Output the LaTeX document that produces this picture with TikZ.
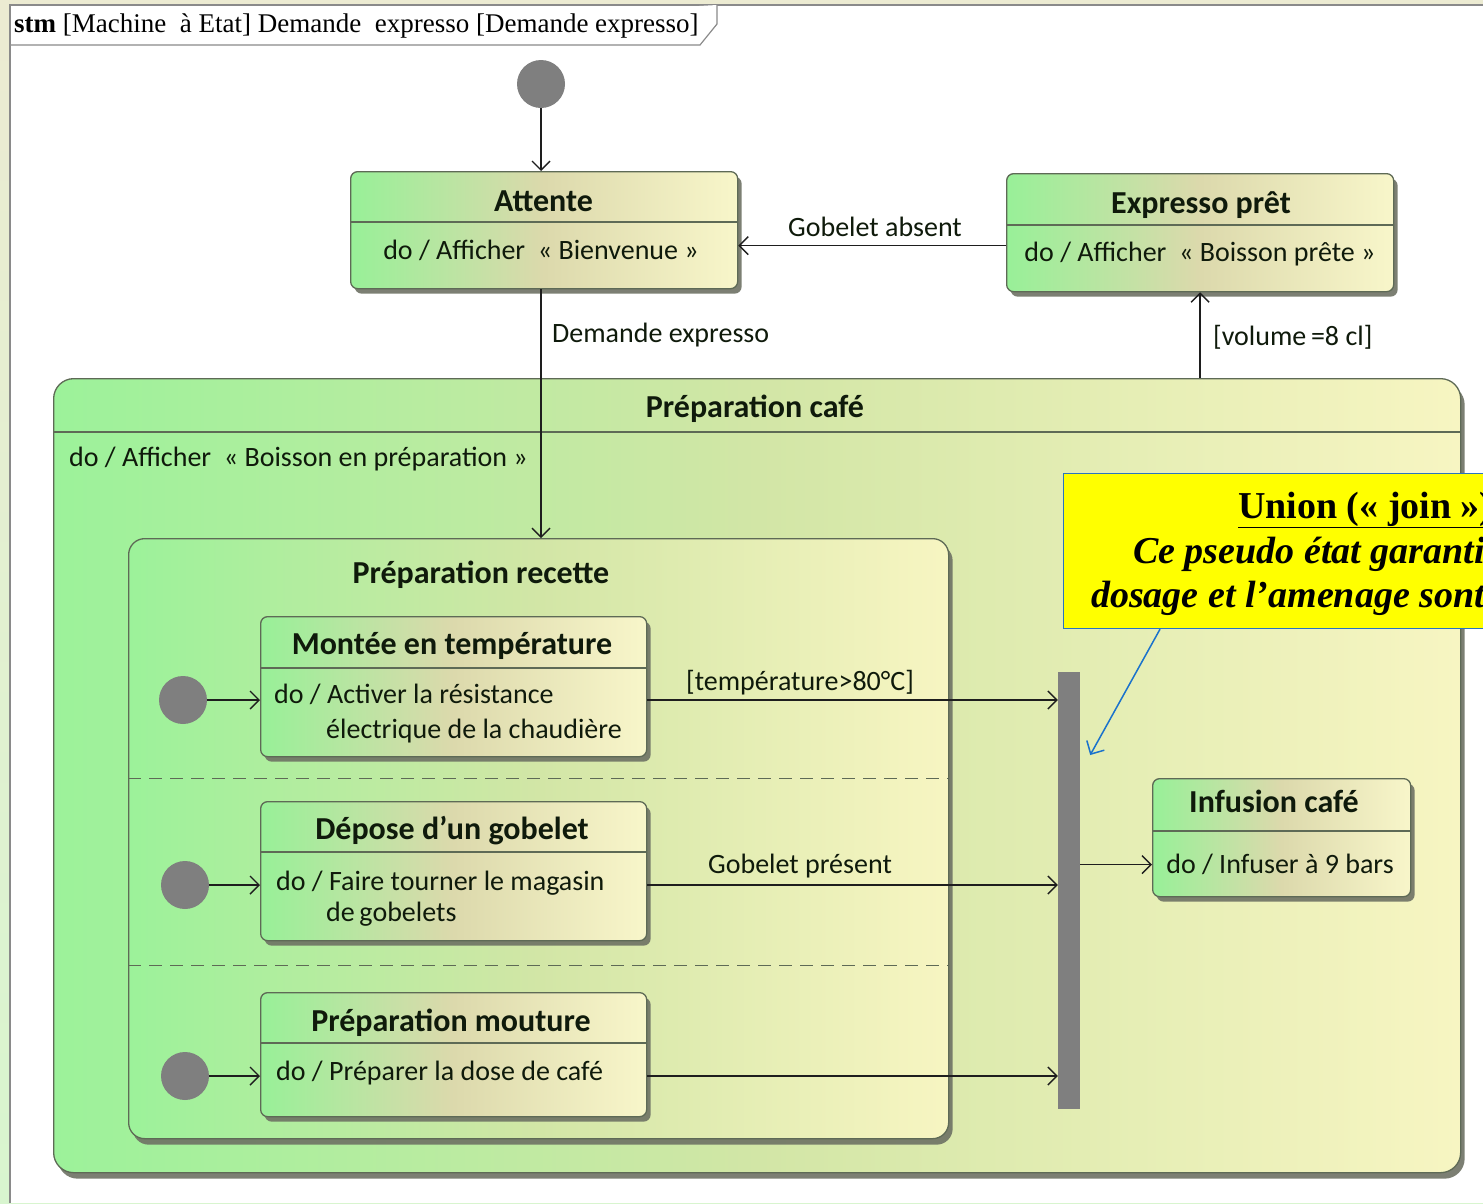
\documentclass[tikz,border=0pt]{standalone}
\usepackage{fontspec}
\setmainfont{Carlito}
\newfontfamily\timesf{Liberation Serif}
\usetikzlibrary{arrows.meta,shadows,calc}

\definecolor{gL}{HTML}{98F098}
\definecolor{gM}{HTML}{DCD9AC}
\definecolor{gR}{HTML}{F8F6CA}
\definecolor{cL}{HTML}{9CF29A}
\definecolor{cM}{HTML}{D2E6A6}
\definecolor{cR}{HTML}{F7F5C2}
\definecolor{edgec}{HTML}{5E6A56}
\definecolor{shd}{HTML}{6E7264}
\definecolor{txtc}{HTML}{0F1A0B}
\definecolor{linec}{HTML}{1E1E1E}
\definecolor{initc}{HTML}{7F7F7F}
\definecolor{framec}{HTML}{8A8A8A}
\definecolor{bgTop}{HTML}{ECEBD2}
\definecolor{bgBot}{HTML}{D8F5CF}
\definecolor{noteb}{HTML}{2A74C0}
\definecolor{notearr}{HTML}{1A72CC}
\definecolor{notey}{HTML}{FFFF00}

\tikzset{
  statebox/.style={draw=edgec, line width=1.3pt, rounded corners=7pt,
    left color=gL, right color=gR, middle color=gM, inner sep=0pt, anchor=north west,
    drop shadow={shadow xshift=4pt, shadow yshift=-5pt, fill=shd, opacity=0.9}},
  regionbox/.style={draw=edgec, line width=1.3pt, rounded corners=20pt,
    left color=cL, right color=cR, middle color=cM, inner sep=0pt, anchor=north west,
    drop shadow={shadow xshift=4pt, shadow yshift=-6pt, fill=shd, opacity=0.9}},
  ttl/.style={text=txtc, font=\bfseries\fontsize{32}{32}\selectfont, inner sep=0pt, anchor=base},
  act/.style={text=txtc, font=\fontsize{28}{34}\selectfont, inner sep=0pt},
  divline/.style={draw=edgec, line width=1.2pt},
  trans/.style={draw=linec, line width=1.4pt,
    -{Straight Barb[length=9pt,width=18pt,line width=1.4pt]}},
  initst/.style={circle, fill=initc, minimum size=48pt, inner sep=0pt},
  joinbar/.style={fill=initc, minimum width=22pt, minimum height=437pt, inner sep=0pt},
  dashsep/.style={draw=edgec, line width=1.2pt, dash pattern=on 13pt off 8pt},
  notebox/.style={draw=noteb, line width=1.2pt, fill=notey, inner sep=0pt, anchor=north west},
  notetxt/.style={text=black, font=\timesf\bfseries\fontsize{38}{45}\selectfont, inner sep=0pt, anchor=base west},
  noteit/.style={notetxt, font=\timesf\bfseries\itshape\fontsize{38}{45}\selectfont},
  notearrow/.style={draw=notearr, line width=1.5pt,
    -{Straight Barb[length=10pt,width=20pt,line width=1.5pt]}},
}

\begin{document}
\begin{tikzpicture}[x=1pt,y=-1pt]
\useasboundingbox (0,0) rectangle (1483,1203);
\clip (0,0) rectangle (1483,1203);

% window background and diagram frame
\fill[top color=bgTop, bottom color=bgBot] (0,0) rectangle (1483,1203);
\fill[white] (10,5) rectangle (1483,1203);
\draw[framec, line width=1.5pt] (10,1203) -- (10,5) -- (1483,5);

% header tab
\draw[framec, line width=1.2pt, fill=white] (10,45) -- (700,45) -- (717,24) -- (717,5);
\node[anchor=base west, inner sep=0pt, text=black, font=\timesf\fontsize{27}{27}\selectfont] (hdr) at (14,32)
  {\textbf{stm} [Machine~ à Etat] Demande~ expresso [Demande expresso]};

% top-level initial state
\node[initst] (i0) at (541,84) {};

% Attente
\node[statebox, minimum width=387pt, minimum height=117pt] (att) at (350,171) {};
\draw[divline] ([yshift=-51pt]att.north west) -- ([yshift=-51pt]att.north east);
\node[ttl] (attT) at (543.5,211) {Attente};
\node[act, anchor=base] (attD) at (541,259) {do / Afficher~~«~Bienvenue~»};

% Expresso pret
\node[statebox, minimum width=387pt, minimum height=118pt] (exp) at (1006,173) {};
\draw[divline] ([yshift=-52pt]exp.north west) -- ([yshift=-52pt]exp.north east);
\node[ttl] (expT) at (1201,213) {Expresso prêt};
\node[act, anchor=base] (expD) at (1200,261) {do / Afficher~~«~Boisson prête~»};

% Preparation cafe (composite state)
\node[regionbox, minimum width=1407pt, minimum height=794pt] (caf) at (53,378) {};
\draw[divline] ([yshift=-54pt]caf.north west) -- ([yshift=-54pt]caf.north east);
\node[ttl] (cafT) at (755,417) {Préparation café};
\node[act, anchor=base west] (cafD) at (69,466) {do / Afficher~~«~Boisson en préparation~»};

% Preparation recette (orthogonal regions)
\node[regionbox, rounded corners=16pt, minimum width=820pt, minimum height=600pt] (rec) at (128,538) {};
\node[ttl] (recT) at (481,583) {Préparation recette};
\draw[dashsep] ([yshift=60pt]rec.west) -- ([yshift=60pt]rec.east);
\draw[dashsep] ([yshift=-127pt]rec.west) -- ([yshift=-127pt]rec.east);

% Montee en temperature
\node[statebox, minimum width=386pt, minimum height=140pt] (mon) at (260,616) {};
\draw[divline] ([yshift=-52pt]mon.north west) -- ([yshift=-52pt]mon.north east);
\node[ttl] (monT) at (452,654) {Montée en température};
\node[act, anchor=base west] (monD1) at (274,703) {do / Activer la résistance};
\node[act, anchor=base west] (monD2) at (326,738) {électrique de la chaudière};

% Depose d'un gobelet
\node[statebox, minimum width=386pt, minimum height=139pt] (dep) at (260,801) {};
\draw[divline] ([yshift=-51pt]dep.north west) -- ([yshift=-51pt]dep.north east);
\node[ttl] (depT) at (452,839) {Dépose d’un gobelet};
\node[act, anchor=base west] (depD1) at (276,890) {do / Faire tourner le magasin};
\node[act, anchor=base west] (depD2) at (326,921) {de\,gobelets};

% Preparation mouture
\node[statebox, minimum width=386pt, minimum height=124pt] (mou) at (260,992) {};
\draw[divline] ([yshift=-51pt]mou.north west) -- ([yshift=-51pt]mou.north east);
\node[ttl] (mouT) at (451,1031) {Préparation mouture};
\node[act, anchor=base west] (mouD) at (276,1080) {do / Préparer la dose de café};

% region initial states
\node[initst] (s1) at (183,700) {};
\node[initst] (s2) at (185,885) {};
\node[initst] (s3) at (185,1076) {};

% join bar
\node[joinbar] (bar) at (1069,890.5) {};

% Infusion cafe
\node[statebox, minimum width=258pt, minimum height=118pt] (inf) at (1152,778) {};
\draw[divline] ([yshift=-53pt]inf.north west) -- ([yshift=-53pt]inf.north east);
\node[ttl] (infT) at (1274,812) {Infusion café};
\node[act, anchor=base] (infD) at (1280,873) {do / Infuser à 9 bars};

% transitions
\draw[trans] (i0.south) -- (i0.south |- att.north);
\path ([yshift=-13pt]exp.west) coordinate (ea);
\draw[trans] (ea) -- (ea -| att.east);
\node[act, anchor=base] (lGa) at (875,236) {Gobelet absent};

\draw[trans] (i0 |- att.south) -- (i0 |- rec.north);
\node[act, anchor=base west] (lDe) at (552,342) {Demande expresso};

\draw[trans] (exp.south |- caf.north) -- (exp.south);
\node[act, anchor=base west] (lVo) at (1213,345) {[volume\,=8 cl]};

\draw[trans] (s1) -- (s1 -| mon.west);
\draw[trans] (s2) -- (s2 -| dep.west);
\draw[trans] (s3) -- (s3 -| mou.west);

\draw[trans] (s1 -| mon.east) -- (s1 -| bar.west);
\node[act, anchor=base] (lTe) at (800,690) {[température>80°C]};
\draw[trans] (s2 -| dep.east) -- (s2 -| bar.west);
\node[act, anchor=base] (lGp) at (800,873) {Gobelet présent};
\draw[trans] (s3 -| mou.east) -- (s3 -| bar.west);

\path ([yshift=-27pt]inf.west) coordinate (ij);
\draw[trans] (ij -| bar.east) -- (ij);

% comment note on the join
\node[notebox, minimum width=440pt, minimum height=155pt] (note) at (1063,473) {};
\node[notetxt] (n1) at (1238,518) {\underline{Union (« join »)}};
\node[noteit] (n2) at (1133,563) {Ce pseudo état garanti};
\node[noteit] (n3) at (1091,607) {dosage et l’amenage sont};
\path (bar.east) ++(10,-135.5) coordinate (na);
\draw[notearrow] ([xshift=97pt]note.south west) -- (na);
\end{tikzpicture}
\end{document}
